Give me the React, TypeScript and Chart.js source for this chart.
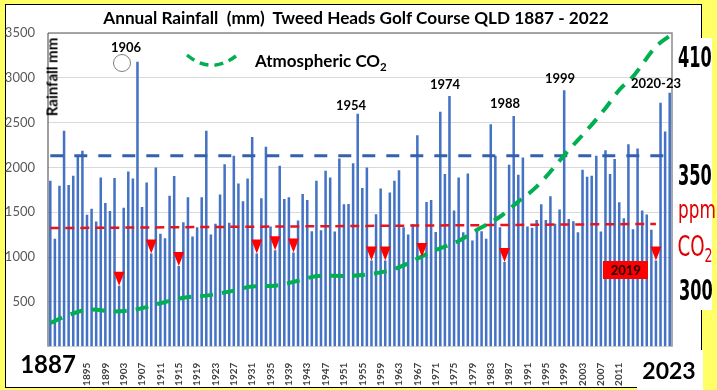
import React, { useEffect, useRef } from "react";
import { Chart, registerables } from "chart.js";

Chart.register(...registerables);

const firstYear = 1887;
const lastYear = 2022;
const years: string[] = [];
for (let y = firstYear; y <= lastYear; y++) years.push(String(y));

// Annual rainfall (mm), 1887 - 2022
const rainfall = [
  1852, 1204, 1796, 2408, 1804, 1908, 2119, 2186, 1471, 1538, 1397, 1889, 1604, // 1887-1899
  1515, 1882, 680, 1549, 1956, 1878, 3178, 1560, 1833, 1040, // 1900-1909
  2000, 1260, 1211, 1685, 1904, 900, 1389, 1667, 1230, 1333, // 1910-1919
  1667, 2408, 1252, 1371, 1697, 2037, 1382, 2130, 1822, 1622, // 1920-1929
  1878, 2341, 1040, 1656, 2230, 1340, 1075, 2020, 1648, 1667, // 1930-1939
  1050, 1408, 1704, 1637, 1289, 1852, 1300, 1963, 1889, 1285, // 1940-1949
  2100, 1590, 1593, 2048, 2600, 1771, 2000, 963, 1478, 1765, // 1950-1959
  963, 1720, 1852, 1970, 1333, 1252, 1367, 2359, 1000, 1615, // 1960-1969
  1637, 1280, 2622, 1926, 2796, 1519, 1889, 1278, 1933, 1185, // 1970-1979
  1326, 1289, 1204, 2482, 2130, 1333, 944, 2030, 2574, 1919, // 1980-1989
  2111, 1341, 1326, 1415, 1590, 1415, 1678, 1371, 1530, 2860, // 1990-1999
  1426, 1400, 1278, 1974, 1896, 1908, 2130, 1285, 2193, 1926, // 2000-2009
  2093, 1611, 1433, 2259, 1311, 2211, 1519, 1474, 1304, 963, // 2010-2019
  2722, 2400, 2833, // 2020-2022
];

const meanYears = [1887, 2022];
const meanMm = [2130, 2130];

const trendYears = [1887, 2019];
const trendMm = [1323, 1370];

const co2Years = [1887, 1891, 1896, 1901, 1906, 1911, 1916, 1921, 1926, 1931, 1936, 1941, 1946, 1951, 1957, 1962, 1966, 1970, 1976, 1980, 1985, 1989, 1993, 2000, 2004, 2008, 2011, 2014, 2019, 2022];
const co2Ppm = [284.5, 288, 290.5, 289.6, 290.6, 293.2, 295.7, 296.6, 298.4, 300.6, 301.0, 303.2, 305.4, 305.3, 306.2, 308.4, 311.9, 316.0, 320.8, 325.7, 331.5, 338.2, 344.8, 361, 369.9, 379.5, 387.6, 393.5, 406.8, 411.5];

const dryYears = [1902, 1909, 1915, 1932, 1936, 1940, 1957, 1960, 1968, 1986, 2019];

const rainTickStep = 500;
const rainMax = 3500;
const co2Min = 274;
const co2Max = 412.8;

function toSeries(ys: number[], vs: number[]) {
  const arr: (number | null)[] = years.map(() => null);
  ys.forEach((y, i) => {
    arr[y - firstYear] = vs[i];
  });
  return arr;
}

const narrow = "'Liberation Sans Narrow', 'DejaVu Sans Condensed', sans-serif";

const T = ({ x, y, size = 13, color = "#000", weight = 700, family, extra = "", children }: any) => (
  <div
    style={{
      position: "absolute",
      left: x,
      top: y,
      transform: `translate(-50%,-50%) ${extra}`,
      whiteSpace: "pre",
      fontWeight: weight,
      fontSize: size,
      color,
      lineHeight: 1,
      fontFamily: family || "Lato, 'Open Sans', sans-serif",
    }}
  >
    {children}
  </div>
);

export default function App() {
  const ref = useRef<HTMLCanvasElement>(null);

  useEffect(() => {
    document.body.style.margin = "0";
    const canvas = ref.current!;
    const overlay = {
      id: "overlay",
      afterDatasetsDraw(chart: any) {
        const ctx = chart.ctx;
        const meta = chart.getDatasetMeta(0);
        ctx.save();
        ctx.fillStyle = "#FF0000";
        dryYears.forEach((yr) => {
          const el = meta.data[yr - firstYear];
          const x = el.x;
          const y = el.y;
          ctx.beginPath();
          ctx.moveTo(x - 5.5, y - 14);
          ctx.lineTo(x + 5.5, y - 14);
          ctx.lineTo(x, y);
          ctx.closePath();
          ctx.fill();
        });
        const a = chart.chartArea;
        ctx.strokeStyle = "#8C8C8C";
        ctx.lineWidth = 1.5;
        ctx.beginPath();
        ctx.moveTo(a.left, a.top);
        ctx.lineTo(a.right, a.top);
        ctx.lineTo(a.right, a.bottom);
        ctx.stroke();
        ctx.strokeStyle = "#404040";
        ctx.lineWidth = 1;
        ctx.beginPath();
        ctx.moveTo(a.left, a.top);
        ctx.lineTo(a.left, a.bottom);
        ctx.stroke();
        // legend sample
        ctx.strokeStyle = "#00B050";
        ctx.lineWidth = 3.5;
        ctx.setLineDash([9, 6]);
        ctx.beginPath();
        ctx.moveTo(187, 55);
        ctx.quadraticCurveTo(211, 75, 236, 56);
        ctx.stroke();
        ctx.setLineDash([]);
        // circle marker
        ctx.strokeStyle = "#7F7F7F";
        ctx.lineWidth = 1;
        ctx.beginPath();
        ctx.arc(122, 63, 8.5, 0, Math.PI * 2);
        ctx.stroke();
        ctx.restore();
      },
    };

    const chart = new Chart(canvas, {
      type: "bar",
      data: {
        labels: years,
        datasets: [
          {
            type: "bar",
            label: "Annual rainfall (mm)",
            data: rainfall,
            backgroundColor: "#4472C4",
            barPercentage: 0.55,
            categoryPercentage: 1,
            order: 10,
            yAxisID: "y",
          },
          {
            type: "line",
            label: "Mean",
            data: toSeries(meanYears, meanMm),
            spanGaps: true,
            borderColor: "#3560AE",
            borderWidth: 3,
            borderDash: [13, 11],
            pointRadius: 0,
            order: 3,
            yAxisID: "y",
          },
          {
            type: "line",
            label: "Trend",
            data: toSeries(trendYears, trendMm),
            spanGaps: true,
            borderColor: "#E8141C",
            borderWidth: 2.5,
            borderDash: [9, 6],
            pointRadius: 0,
            order: 2,
            yAxisID: "y",
          },
          {
            type: "line",
            label: "Atmospheric CO2",
            data: toSeries(co2Years, co2Ppm),
            spanGaps: true,
            borderColor: "#00B050",
            borderWidth: 4,
            borderDash: [13, 9],
            pointRadius: 0,
            cubicInterpolationMode: "monotone",
            order: 1,
            yAxisID: "y2",
          },
        ] as any,
      },
      options: {
        animation: false,
        responsive: false,
        layout: { padding: { left: 0, top: 33, right: 45, bottom: 0 } },
        plugins: {
          legend: { display: false },
          tooltip: { enabled: false },
          title: { display: false },
        },
        scales: {
          x: {
            grid: { display: false },
            border: { display: false },
            ticks: {
              autoSkip: false,
              minRotation: 90,
              maxRotation: 90,
              padding: 8,
              color: "#404040",
              font: { family: "Lato", size: 10, weight: "bold" },
              callback: (_v: any, i: number) => {
                const yr = firstYear + i;
                return (yr - firstYear) % 4 === 0 && yr >= 1895 && yr <= 2011 ? String(yr) : "";
              },
            },
            afterFit: (s: any) => {
              s.height = 43.3;
            },
          },
          y: {
            min: 0,
            max: rainMax,
            ticks: {
              stepSize: rainTickStep,
              padding: 13,
              color: "#595959",
              font: { family: "Lato", size: 13 },
              callback: (v: any) => (v === 0 ? "" : String(v)),
            },
            grid: { color: "#D9D9D9", drawTicks: false },
            border: { display: false },
            afterFit: (s: any) => {
              s.width = 48;
            },
          },
          y2: { display: false, min: co2Min, max: co2Max, position: "right" },
        },
      } as any,
      plugins: [overlay],
    });
    return () => chart.destroy();
  }, []);

  return (
    <div
      style={{
        position: "relative",
        width: 717,
        height: 390,
        background: "#FFFF66",
        overflow: "hidden",
        fontFamily: "Lato, 'Open Sans', sans-serif",
      }}
    >
      <div
        style={{
          position: "absolute",
          left: 5,
          top: 4,
          width: 697,
          height: 384,
          boxSizing: "border-box",
          border: "1.5px solid #000",
          background: "#fff",
        }}
      />
      <div style={{ position: "absolute", left: 676, top: 38, width: 36, height: 272, background: "#fff" }} />
      <div style={{ position: "absolute", left: 637, top: 350, width: 66, height: 40, background: "#fff" }} />
      <canvas ref={ref} width={717} height={390} style={{ position: "absolute", left: 0, top: 0 }} />

      <T x={356} y={18} size={17.2}>{"Annual Rainfall  (mm)  Tweed Heads Golf Course QLD 1887 - 2022"}</T>
      <T x={52} y={77} size={15} extra="rotate(-90deg)">Rainfall mm</T>

      <div
        style={{
          position: "absolute",
          left: 255,
          top: 60,
          transform: "translateY(-50%)",
          whiteSpace: "pre",
          fontWeight: 700,
          fontSize: 17,
          lineHeight: 1,
        }}
      >
        Atmospheric CO<span style={{ fontSize: 11.5, position: "relative", top: 4 }}>2</span>
      </div>

      <T x={126} y={47} size={13}>1906</T>
      <T x={351} y={105} size={13}>1954</T>
      <T x={445} y={84} size={13}>1974</T>
      <T x={505} y={103} size={13}>1988</T>
      <T x={560} y={78} size={13}>1999</T>
      <T x={656} y={83} size={13}>2020-23</T>

      <div
        style={{
          position: "absolute",
          left: 603,
          top: 261,
          width: 45,
          height: 18,
          background: "#FF0000",
          color: "#2A0000",
          fontWeight: 700,
          fontSize: 13,
          lineHeight: "18px",
          textAlign: "center",
        }}
      >
        2019
      </div>

      <T x={48} y={364} size={24}>1887</T>
      <T x={669} y={370} size={23}>2023</T>

      <T x={695} y={57} size={29} weight={700} family={narrow} extra="scaleX(0.62)">410</T>
      <T x={695} y={175} size={29} weight={700} family={narrow} extra="scaleX(0.62)">350</T>
      <T x={697} y={210} size={24} weight={400} color="#E00000" family={narrow} extra="scaleX(0.78)">ppm</T>
      <div
        style={{
          position: "absolute",
          left: 695,
          top: 246,
          transform: "translate(-50%,-50%) scaleX(0.7)",
          whiteSpace: "pre",
          fontSize: 29,
          lineHeight: 1,
          color: "#E00000",
          fontFamily: narrow,
        }}
      >
        CO<span style={{ fontSize: 20, position: "relative", top: 6 }}>2</span>
      </div>
      <T x={696} y={290} size={29} weight={700} family={narrow} extra="scaleX(0.62)">300</T>
    </div>
  );
}
